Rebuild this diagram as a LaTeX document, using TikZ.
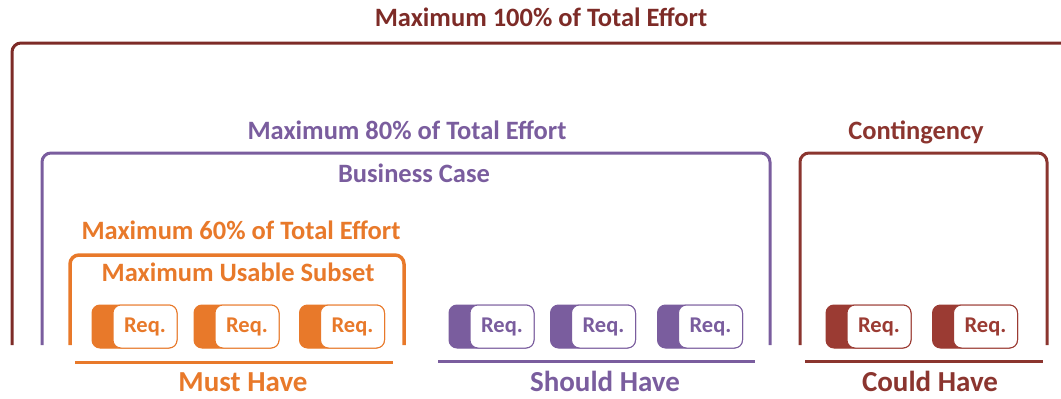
\documentclass[tikz,border=0pt]{standalone}
\usepackage{fontspec}
\setmainfont{Carlito}
\usetikzlibrary{positioning}
\definecolor{effort}{HTML}{7D2B27}
\definecolor{contin}{HTML}{8B352F}
\definecolor{could}{HTML}{9B3B33}
\definecolor{should}{HTML}{7A5D9E}
\definecolor{must}{HTML}{E8792A}

\begin{document}
\begin{tikzpicture}[x=1pt,y=-1pt,font=\bfseries\fontsize{26.5}{30}\selectfont]
\tikzset{frame/.style={line width=3pt,rounded corners=9pt}, rule/.style={line width=3pt}, label/.style={inner sep=0pt,anchor=base}, big/.style={label,font=\bfseries\fontsize{29}{33}\selectfont}, reqback/.style={fill=#1,draw=#1,line width=1pt,rounded corners=8pt,minimum width=85pt,minimum height=43pt,inner sep=0pt}, reqfront/.style={fill=white,draw=#1,line width=1pt,rounded corners=8pt,minimum width=64pt,minimum height=43pt,inner sep=0pt,anchor=east,text=#1,font=\bfseries\fontsize{22.5}{26}\selectfont}}
\useasboundingbox (0,0) rectangle (1061,399);
% frames
\draw[frame,effort] (12,345) -- (12,43) -- (1070,43);
\draw[frame,should] (42,345) -- (42,153) -- (770,153) -- (770,345);
\draw[frame,contin] (800,345) -- (800,153) -- (1047,153) -- (1047,345);
\draw[frame,must,line width=3.5pt] (70,345) -- (70,255) -- (404,255) -- (404,345);
% titles
\node[label,text=effort] (t100) at (541,26.5) {Maximum 100\% of Total Effort};
\node[label,text=should] (t80) at (407,139.5) {Maximum 80\% of Total Effort};
\node[label,text=should] (bc) at (414,182) {Business Case};
\node[label,text=contin] (cont) at (916,139.5) {Contingency};
\node[label,text=must] (t60) at (241,239.5) {Maximum 60\% of Total Effort};
\node[label,text=must] (mus) at (238,281.5) {Maximum Usable Subset};
% requirements
\foreach \n/\x in {1/134.5,2/236.5,3/342} {
  \node[reqback=must] (m\n) at (\x,326.5) {};
  \node[reqfront=must] (m\n-t) at (m\n.east) {Req.};
}
\foreach \n/\x in {1/491.5,2/593,3/700} {
  \node[reqback=should] (s\n) at (\x,326.5) {};
  \node[reqfront=should] (s\n-t) at (s\n.east) {Req.};
}
\foreach \n/\x in {1/868.5,2/975} {
  \node[reqback=could] (c\n) at (\x,326.5) {};
  \node[reqfront=could] (c\n-t) at (c\n.east) {Req.};
}
% categories
\draw[rule,must] (75,362) -- (393,362);
\draw[rule,should] (438,361) -- (755,361);
\draw[rule,contin] (805,361) -- (1043,361);
\node[big,text=must] (mh) at (243,391.5) {Must Have};
\node[big,text=should] (sh) at (605,391.5) {Should Have};
\node[big,text=contin] (ch) at (930,391.5) {Could Have};
\end{tikzpicture}
\end{document}
